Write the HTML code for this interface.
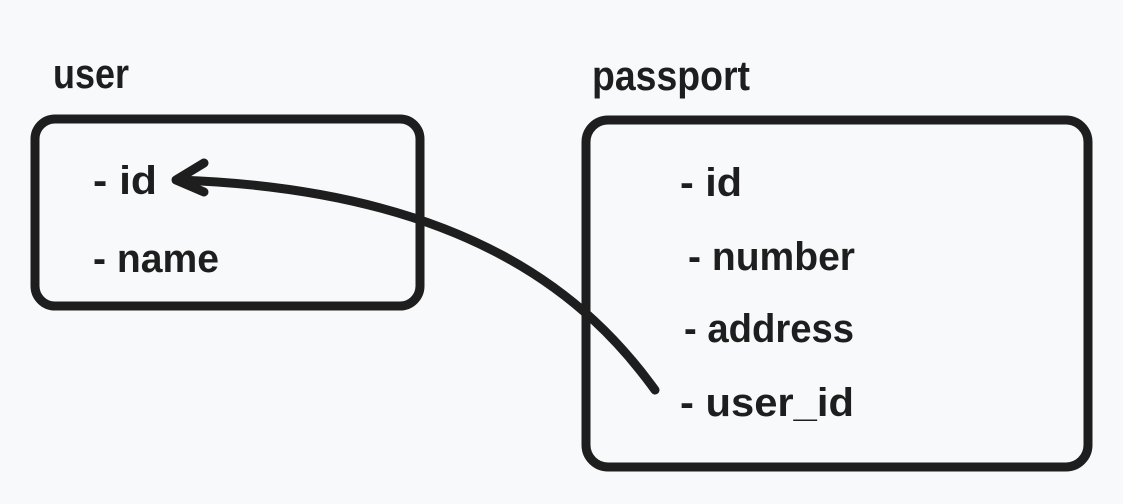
<!DOCTYPE html>
<html><head><meta charset="utf-8"><style>
html,body{margin:0;padding:0;background:#f8f9fa;}
svg{display:block}
text{font-family:"Liberation Sans Narrow","Liberation Sans",sans-serif;font-weight:bold;fill:#1e1e1e;}
</style></head><body>
<svg width="1123" height="504" viewBox="0 0 1123 504" xmlns="http://www.w3.org/2000/svg">
<rect width="1123" height="504" fill="#f8f9fa"/>
<g fill="none" stroke="#1e1e1e" stroke-width="9" stroke-linecap="round" stroke-linejoin="round">
<rect x="35" y="119" width="385" height="187" rx="20"/>
<rect x="586" y="120" width="502" height="347" rx="22"/>
<path d="M655 390 C 590 300, 470 190, 178 180"/>
<path d="M204 163 L176 180 L204 192"/>
</g>
<g font-size="42">
<text x="53" y="88" textLength="76" lengthAdjust="spacingAndGlyphs">user</text>
<text x="592" y="90" textLength="158" lengthAdjust="spacingAndGlyphs">passport</text>
</g>
<g font-size="40">
<text x="93" y="194" textLength="64" lengthAdjust="spacingAndGlyphs">- id</text>
<text x="93" y="272" textLength="126" lengthAdjust="spacingAndGlyphs">- name</text>
<text x="680" y="196" textLength="62" lengthAdjust="spacingAndGlyphs">- id</text>
<text x="688" y="270" textLength="167" lengthAdjust="spacingAndGlyphs">- number</text>
<text x="684" y="342" textLength="170" lengthAdjust="spacingAndGlyphs">- address</text>
<text x="680" y="416" textLength="174" lengthAdjust="spacingAndGlyphs">- user_id</text>
</g>
</svg>
</body></html>
